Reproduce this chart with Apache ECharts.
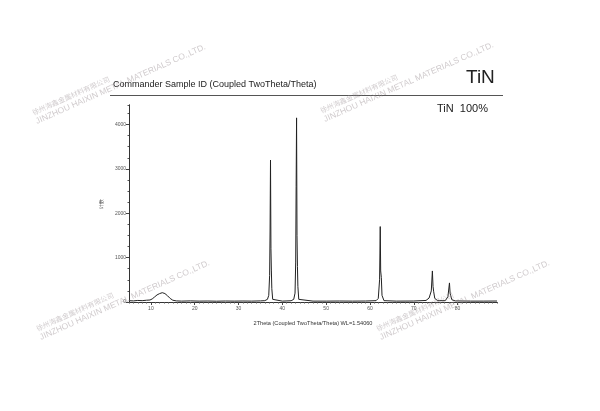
<!DOCTYPE html>
<html>
<head>
<meta charset="utf-8">
<script src="https://cdn.jsdelivr.net/npm/echarts@6/dist/echarts.min.js"></script>
<style>html,body{margin:0;padding:0;background:#fff}#c{width:600px;height:411px}</style>
</head>
<body>
<div id="c"></div>
<script>
// 2Theta values (degrees) and intensities (counts)
const twoTheta = [5.0,6.0,7.0,8.0,9.0,9.8,10.3,10.8,11.4,12.0,12.6,13.2,13.8,14.4,15.0,15.8,17,19,21,23,25,27,29,31,33,35,
  36.0,36.6,36.9,37.1,37.2,37.3,37.4,37.5,37.6,37.8,38.2,40,42,
  42.6,42.9,43.05,43.15,43.25,43.35,43.45,43.55,43.75,44.2,47,50,53,56,59,
  61.4,61.9,62.2,62.35,62.45,62.6,62.75,63.2,66,70,
  72.8,73.5,74.0,74.25,74.4,74.55,74.8,75.5,
  77.2,77.8,78.15,78.3,78.45,78.7,79.5,83,86,89];
const counts = [30,25,35,30,40,45,70,110,160,190,210,190,140,80,40,25,20,25,20,22,18,22,20,22,20,25,
  30,60,150,600,1600,3200,1200,700,300,60,25,20,28,
  60,200,900,2600,4150,1500,800,350,60,25,20,20,22,20,22,
  30,80,500,1700,700,550,150,30,20,22,
  35,90,250,700,350,230,80,30,
  30,120,430,200,140,50,25,20,20,22];
const xTickValues = [10,20,30,40,50,60,70,80];
const yTickValues = [0,1000,2000,3000,4000];
const titleText = 'Commander Sample ID (Coupled TwoTheta/Theta)';
const sampleName = 'TiN';
const legendText = 'TiN  100%';
const xName = '2Theta (Coupled TwoTheta/Theta) WL=1.54060';
const yName = '计数';
const wmCN = '徐州海鑫金属材料有限公司';
const wmEN = 'JINZHOU HAIXIN METAL MATERIALS CO.,LTD.';

const pts = twoTheta.map((t,i)=>[t,counts[i]]);
const chart = echarts.init(document.getElementById('c'), null, {renderer:'canvas'});
const ang = 24*Math.PI/180;
const wmStarts = [[38,126],[326,124],[42,342],[382,342]];
const wmColor = 'rgba(150,140,145,0.45)';
const graphics = [];
wmStarts.forEach(([x,y])=>{
  graphics.push({type:'text', x:x-4, y:y-10, rotation:ang, z:100, style:{text:wmCN, fill:wmColor, font:'7px "Noto Sans CJK SC"', textVerticalAlign:'bottom'}});
  graphics.push({type:'text', x:x, y:y, rotation:ang, z:100, style:{text:wmEN, fill:wmColor, font:'8.5px "Liberation Sans"', textVerticalAlign:'bottom'}});
});
graphics.push({type:'text', left:113, top:80, style:{text:titleText, fill:'#222', font:'9px "Liberation Sans"'}});
graphics.push({type:'text', left:466, top:68, style:{text:sampleName, fill:'#222', font:'19px "Liberation Sans"'}});
graphics.push({type:'line', shape:{x1:110,y1:95.5,x2:503,y2:95.5}, style:{stroke:'#555', lineWidth:1}});
graphics.push({type:'text', left:437, top:103, style:{text:legendText, fill:'#222', font:'11px "Liberation Sans"'}});

const axisCommon = {axisLine:{lineStyle:{color:'#333',width:1}}, splitLine:{show:false}};
chart.setOption({
  animation:false,
  backgroundColor:'#fff',
  grid:{left:129, right:103, top:105, bottom:109},
  xAxis:[
    Object.assign({type:'value', min:5, max:89, interval:1, axisTick:{length:1.5,lineStyle:{color:'#555'}}, axisLabel:{show:false}}, axisCommon),
    Object.assign({type:'value', min:5, max:89, position:'bottom',
      axisTick:{customValues:xTickValues, length:3, lineStyle:{color:'#444'}},
      axisLabel:{customValues:xTickValues, fontSize:5, color:'#555', margin:4, fontFamily:'Liberation Sans', formatter:v=>String(v)},
      name:xName, nameLocation:'middle', nameGap:18, nameTextStyle:{fontSize:5.6, color:'#333', fontFamily:'Liberation Sans'}}, axisCommon)
  ],
  yAxis:[
    Object.assign({type:'value', min:0, max:4440, interval:250, axisTick:{length:1.5,lineStyle:{color:'#555'}}, axisLabel:{show:false}}, axisCommon),
    Object.assign({type:'value', min:0, max:4440, position:'left',
      axisTick:{customValues:yTickValues, length:3, lineStyle:{color:'#444'}},
      axisLabel:{customValues:yTickValues, fontSize:5, color:'#555', margin:3, fontFamily:'Liberation Sans', formatter:v=>String(v)},
      name:yName, nameLocation:'middle', nameGap:15, nameRotate:90, nameTextStyle:{fontSize:5, color:'#444'}}, axisCommon)
  ],
  series:[{type:'line', xAxisIndex:1, yAxisIndex:1, data:pts, showSymbol:false, symbol:'none',
    lineStyle:{color:'#222', width:1}, z:5}],
  graphic:graphics
});
</script>
</body>
</html>
